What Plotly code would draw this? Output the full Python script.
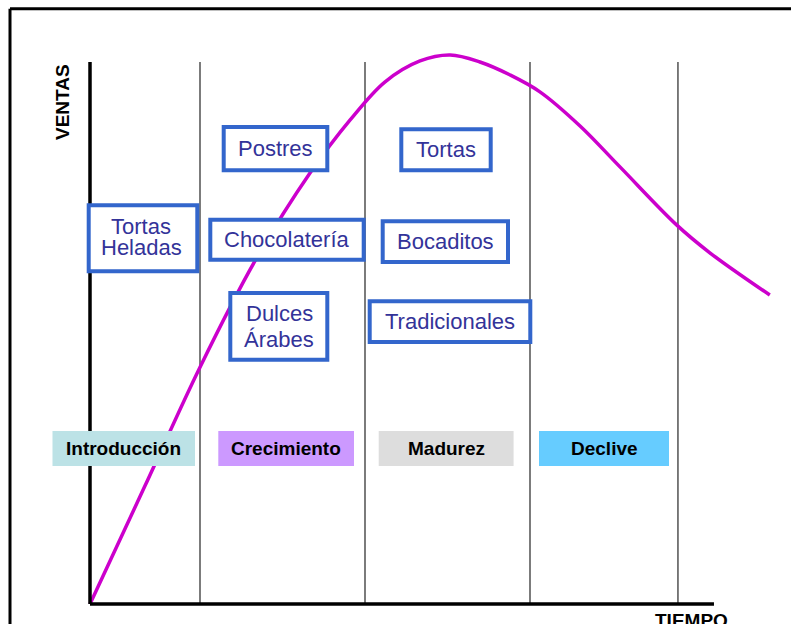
import plotly.graph_objects as go

# ---------------- data ----------------
stages = ["Introducción", "Crecimiento", "Madurez", "Declive"]
stage_end_time = [2.0, 5.0, 8.0, 10.69]
stage_colors = ["#BCE2E6", "#CC99FF", "#DDDDDD", "#66CCFF"]

time = [0, 1, 2, 3, 4, 4.73, 5.36, 6, 6.55, 7.09, 7.64, 8.18, 8.91, 9.64, 10.67, 11.27, 12.36]
sales = [0, 21.8, 43.7, 63.3, 79.5, 89.3, 96.3, 100.2, 101.3, 100.0, 97.6, 94.5, 88.2, 80.6,
         69.9, 64.8, 57.0]

products = [["Tortas", "Heladas"], ["Postres"], ["Chocolatería"], ["Dulces", "Árabes"],
            ["Tortas"], ["Bocaditos"], ["Tradicionales"]]

axis_time_max = 11.345
axis_sales_max = 100

# ---------------- geometry (pixels) ----------------
W, H = 791, 624
X0, SX = 90, 55.0      # px origin, px per time unit
Y0, SY = 604, 5.42     # px origin, px per sales unit

def px(x):
    return x / W

def py(y):
    return 1 - y / H

FONT = "Arial, Liberation Sans, sans-serif"

fig = go.Figure()
fig.add_trace(go.Scatter(
    x=time, y=sales, mode="lines",
    line=dict(color="#CC00CC", width=3.5, shape="spline", smoothing=1.0),
    hoverinfo="skip", showlegend=False))

shapes = []
# frame
shapes.append(dict(type="line", xref="paper", yref="paper", x0=px(10), x1=px(W + 5),
                   y0=py(8.7), y1=py(8.7), line=dict(color="black", width=3)))
shapes.append(dict(type="line", xref="paper", yref="paper", x0=px(10), x1=px(10),
                   y0=py(8.7), y1=py(H + 5), line=dict(color="black", width=3)))
# stage dividers
for t in stage_end_time:
    shapes.append(dict(type="line", xref="x", yref="y", x0=t, x1=t, y0=0, y1=axis_sales_max,
                       line=dict(color="#444444", width=1.4), layer="below"))
# axes
shapes.append(dict(type="line", xref="x", yref="y", x0=0, x1=0, y0=0, y1=axis_sales_max,
                   line=dict(color="black", width=3.5)))
shapes.append(dict(type="line", xref="x", yref="y", x0=0, x1=axis_time_max, y0=0, y1=0,
                   line=dict(color="black", width=3.5)))

annotations = []

# product boxes: outer box (l, t, r, b) and text line centres
prod_boxes = [
    (86.7, 203.3, 199.3, 273.3, [(141, 226), (141, 248)]),
    (221.7, 125, 329.3, 172.3, [(275.5, 148)]),
    (208.3, 217.7, 365.7, 261.7, [(286.5, 240)]),
    (228.3, 291, 329.3, 361.7, [(279, 313.3), (279, 340)]),
    (399.3, 127.3, 492.7, 172.3, [(446, 149.5)]),
    (380.7, 219.3, 510, 264, [(445.5, 241.5)]),
    (367.7, 299.3, 532.3, 344, [(450.3, 321.5)]),
]
BW = 4
for (l, t, r, b, pos), lines in zip(prod_boxes, products):
    shapes.append(dict(type="rect", xref="paper", yref="paper",
                       x0=px(l + BW / 2), x1=px(r - BW / 2), y0=py(t + BW / 2), y1=py(b - BW / 2),
                       line=dict(color="#3366CC", width=BW), fillcolor="white", layer="above"))
    for txt, (cx, cy) in zip(lines, pos):
        annotations.append(dict(text=txt, xref="paper", yref="paper", x=px(cx), y=py(cy),
                                xanchor="center", yanchor="middle", showarrow=False,
                                font=dict(family=FONT, size=22, color="#333399")))

# stage labels
stage_boxes = [(52.5, 195), (218.3, 354), (378.7, 513.6), (539, 669)]
ST, SB = 431, 466
for (l, r), name, col in zip(stage_boxes, stages, stage_colors):
    shapes.append(dict(type="rect", xref="paper", yref="paper", x0=px(l), x1=px(r),
                       y0=py(ST), y1=py(SB), line=dict(width=0), fillcolor=col, layer="above"))
    annotations.append(dict(text="<b>" + name + "</b>", xref="paper", yref="paper",
                            x=px((l + r) / 2), y=py(448.5), xanchor="center", yanchor="middle",
                            showarrow=False, font=dict(family=FONT, size=19, color="black")))

# axis titles
annotations.append(dict(text="<b>VENTAS</b>", xref="paper", yref="paper", x=px(63), y=py(102),
                        xanchor="center", yanchor="middle", textangle=-90, showarrow=False,
                        font=dict(family=FONT, size=19, color="black")))
annotations.append(dict(text="<b>TIEMPO</b>", xref="paper", yref="paper", x=px(691), y=py(620.5),
                        xanchor="center", yanchor="middle", showarrow=False,
                        font=dict(family=FONT, size=19, color="black")))

fig.update_layout(
    width=W, height=H, margin=dict(l=0, r=0, t=0, b=0),
    paper_bgcolor="white", plot_bgcolor="white",
    xaxis=dict(range=[-X0 / SX, (W - X0) / SX], visible=False, fixedrange=True),
    yaxis=dict(range=[(Y0 - H) / SY, Y0 / SY], visible=False, fixedrange=True),
    shapes=shapes, annotations=annotations, showlegend=False,
)

fig.write_html("out.html", config={"displayModeBar": False},
               post_script="document.body.style.margin='0';document.body.style.overflow='hidden';")
